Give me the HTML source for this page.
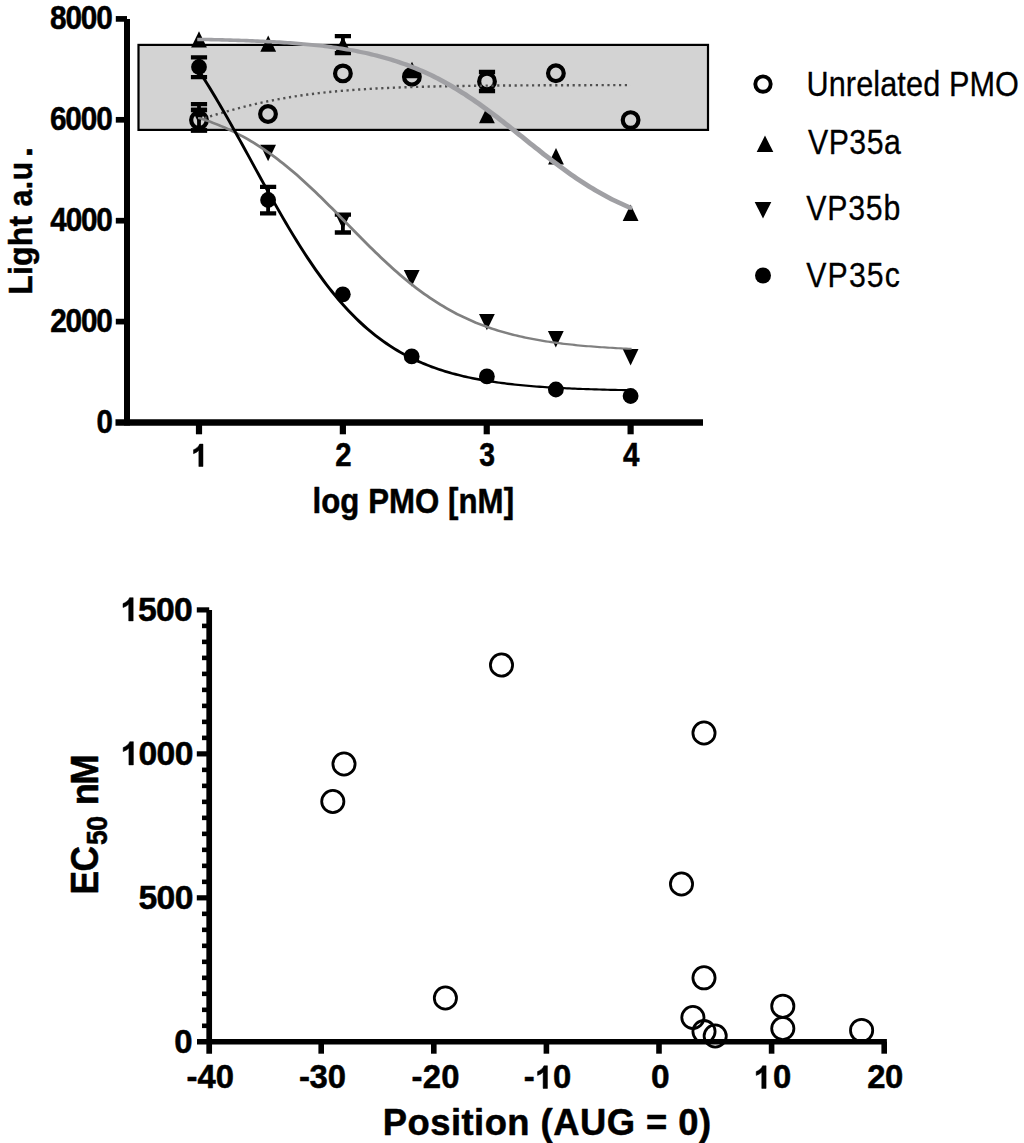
<!DOCTYPE html>
<html><head><meta charset="utf-8"><title>PMO dose response</title>
<style>html,body{margin:0;padding:0;background:#fff}svg{display:block}text{font-family:"Liberation Sans",sans-serif;fill:#000}</style>
</head><body>
<svg width="1024" height="1143" viewBox="0 0 1024 1143">
<rect width="1024" height="1143" fill="#fff"/>
<rect x="138.5" y="44.9" width="569.5" height="85.0" fill="#d3d3d3" stroke="#000" stroke-width="2.2"/>
<g stroke="#000" stroke-linecap="butt" fill="none">
<line x1="127.0" y1="19.0" x2="127.0" y2="425.5" stroke-width="6.0"/>
<line x1="115.5" y1="422.5" x2="703.0" y2="422.5" stroke-width="6.3"/>
<line x1="115.8" y1="321.60" x2="127.0" y2="321.60" stroke-width="5.7"/>
<line x1="115.8" y1="220.70" x2="127.0" y2="220.70" stroke-width="5.7"/>
<line x1="115.8" y1="119.80" x2="127.0" y2="119.80" stroke-width="5.7"/>
<line x1="115.8" y1="18.90" x2="127.0" y2="18.90" stroke-width="5.7"/>
<line x1="199.00" y1="422.5" x2="199.00" y2="434.3" stroke-width="6.2"/>
<line x1="342.87" y1="422.5" x2="342.87" y2="434.3" stroke-width="6.2"/>
<line x1="486.74" y1="422.5" x2="486.74" y2="434.3" stroke-width="6.2"/>
<line x1="630.61" y1="422.5" x2="630.61" y2="434.3" stroke-width="6.2"/>
</g>
<path d="M190.90,110.00H207.10M190.90,130.30H207.10" stroke="#000" stroke-width="4.3" fill="none"/><path d="M199.00,110.00V112.25" stroke="#000" stroke-width="3.8" fill="none"/><path d="M199.00,127.95V130.30" stroke="#000" stroke-width="3.8" fill="none"/>
<circle cx="199.00" cy="120.10" r="7.85" fill="none" stroke="#000" stroke-width="4.2"/>
<circle cx="268.00" cy="114.00" r="7.85" fill="none" stroke="#000" stroke-width="4.2"/>
<circle cx="342.90" cy="73.40" r="7.85" fill="none" stroke="#000" stroke-width="4.2"/>
<circle cx="411.90" cy="76.80" r="7.85" fill="none" stroke="#000" stroke-width="4.2"/>
<path d="M478.90,72.00H495.10M478.90,91.00H495.10" stroke="#000" stroke-width="4.3" fill="none"/><path d="M487.00,72.00V73.55" stroke="#000" stroke-width="3.8" fill="none"/><path d="M487.00,89.25V91.00" stroke="#000" stroke-width="3.8" fill="none"/>
<circle cx="487.00" cy="81.40" r="7.85" fill="none" stroke="#000" stroke-width="4.2"/>
<circle cx="555.90" cy="73.30" r="7.85" fill="none" stroke="#000" stroke-width="4.2"/>
<circle cx="630.60" cy="120.10" r="7.85" fill="none" stroke="#000" stroke-width="4.2"/>
<path d="M199.00,119.84 L202.63,118.70 L206.25,117.57 L209.88,116.45 L213.51,115.34 L217.13,114.25 L220.76,113.18 L224.39,112.13 L228.02,111.09 L231.64,110.08 L235.27,109.09 L238.90,108.12 L242.52,107.18 L246.15,106.26 L249.78,105.36 L253.40,104.49 L257.03,103.65 L260.66,102.83 L264.29,102.04 L267.91,101.28 L271.54,100.54 L275.17,99.82 L278.79,99.14 L282.42,98.47 L286.05,97.84 L289.67,97.23 L293.30,96.64 L296.93,96.07 L300.56,95.53 L304.18,95.02 L307.81,94.52 L311.44,94.05 L315.06,93.59 L318.69,93.16 L322.32,92.75 L325.94,92.35 L329.57,91.97 L333.20,91.62 L336.83,91.27 L340.45,90.95 L344.08,90.64 L347.71,90.35 L351.33,90.07 L354.96,89.80 L358.59,89.55 L362.21,89.31 L365.84,89.08 L369.47,88.86 L373.09,88.66 L376.72,88.46 L380.35,88.28 L383.98,88.10 L387.60,87.94 L391.23,87.78 L394.86,87.63 L398.48,87.49 L402.11,87.36 L405.74,87.23 L409.36,87.11 L412.99,87.00 L416.62,86.89 L420.25,86.79 L423.87,86.69 L427.50,86.60 L431.13,86.52 L434.75,86.44 L438.38,86.36 L442.01,86.29 L445.63,86.22 L449.26,86.15 L452.89,86.09 L456.52,86.04 L460.14,85.98 L463.77,85.93 L467.40,85.88 L471.02,85.83 L474.65,85.79 L478.28,85.75 L481.90,85.71 L485.53,85.67 L489.16,85.64 L492.78,85.61 L496.41,85.58 L500.04,85.55 L503.67,85.52 L507.29,85.49 L510.92,85.47 L514.55,85.45 L518.17,85.42 L521.80,85.40 L525.43,85.38 L529.05,85.36 L532.68,85.35 L536.31,85.33 L539.94,85.32 L543.56,85.30 L547.19,85.29 L550.82,85.27 L554.44,85.26 L558.07,85.25 L561.70,85.24 L565.32,85.23 L568.95,85.22 L572.58,85.21 L576.21,85.20 L579.83,85.19 L583.46,85.18 L587.09,85.18 L590.71,85.17 L594.34,85.16 L597.97,85.16 L601.59,85.15 L605.22,85.15 L608.85,85.14 L612.48,85.14 L616.10,85.13 L619.73,85.13 L623.36,85.12 L626.98,85.12 L630.61,85.12" fill="none" stroke="#505050" stroke-width="2.4" stroke-dasharray="2.2 3.6"/>
<path d="M199.00,31.20L206.90,47.60H191.10Z" fill="#000"/>
<path d="M268.20,35.40L276.10,51.80H260.30Z" fill="#000"/>
<path d="M334.80,36.10H351.00M334.80,53.20H351.00" stroke="#000" stroke-width="4.3" fill="none"/><path d="M342.90,36.10V53.20" stroke="#000" stroke-width="3.8" fill="none"/>
<path d="M342.90,36.40L350.80,52.80H335.00Z" fill="#000"/>
<path d="M412.00,61.80L419.90,78.20H404.10Z" fill="#000"/>
<path d="M486.90,106.90L494.80,123.30H479.00Z" fill="#000"/>
<path d="M556.00,148.00L563.90,164.40H548.10Z" fill="#000"/>
<path d="M630.60,204.60L638.50,221.00H622.70Z" fill="#000"/>
<path d="M197.25,37.65 L200.75,37.65 L203.46,37.70 L206.18,37.75 L208.89,37.80 L211.61,37.86 L214.32,37.91 L217.04,37.97 L219.75,38.04 L222.47,38.10 L225.18,38.17 L227.90,38.24 L230.61,38.31 L233.32,38.39 L236.04,38.47 L238.75,38.56 L241.47,38.65 L244.18,38.74 L246.90,38.83 L249.61,38.93 L252.33,39.04 L255.04,39.15 L257.76,39.26 L260.47,39.38 L263.18,39.50 L265.90,39.63 L268.61,39.77 L271.33,39.91 L274.04,40.05 L276.76,40.20 L279.47,40.36 L282.19,40.53 L284.90,40.70 L287.61,40.88 L290.33,41.07 L293.04,41.27 L295.76,41.47 L298.47,41.68 L301.19,41.90 L303.90,42.14 L306.62,42.38 L309.33,42.63 L312.05,42.89 L314.76,43.16 L317.47,43.44 L320.19,43.74 L322.90,44.05 L325.62,44.37 L328.33,44.70 L331.05,45.04 L333.76,45.40 L336.48,45.78 L339.19,46.17 L341.91,46.58 L344.62,47.00 L347.33,47.44 L350.05,47.89 L352.76,48.37 L355.48,48.86 L358.19,49.37 L360.91,49.90 L363.62,50.45 L366.34,51.02 L369.05,51.62 L371.77,52.24 L374.48,52.88 L377.19,53.54 L379.91,54.23 L382.62,54.94 L385.34,55.68 L388.05,56.44 L390.77,57.23 L393.48,58.05 L396.20,58.90 L398.91,59.78 L401.63,60.69 L404.34,61.63 L407.05,62.59 L409.77,63.59 L412.48,64.63 L415.20,65.69 L417.91,66.79 L420.63,67.92 L423.34,69.09 L426.06,70.29 L428.77,71.53 L431.48,72.80 L434.20,74.11 L436.91,75.45 L439.63,76.83 L442.34,78.25 L445.06,79.70 L447.77,81.19 L450.49,82.72 L453.20,84.28 L455.92,85.88 L458.63,87.51 L461.34,89.18 L464.06,90.88 L466.77,92.62 L469.49,94.39 L472.20,96.20 L474.92,98.03 L477.63,99.90 L480.35,101.80 L483.06,103.72 L485.78,105.68 L488.49,107.66 L491.20,109.67 L493.92,111.70 L496.63,113.75 L499.35,115.82 L502.06,117.91 L504.78,120.02 L507.49,122.14 L510.21,124.28 L512.92,126.43 L515.64,128.59 L518.35,130.76 L521.06,132.93 L523.78,135.10 L526.49,137.28 L529.21,139.46 L531.92,141.63 L534.64,143.80 L537.35,145.97 L540.07,148.12 L542.78,150.27 L545.50,152.40 L548.21,154.51 L550.92,156.62 L553.64,158.70 L556.35,160.76 L559.07,162.81 L561.78,164.82 L564.50,166.82 L567.21,168.79 L569.93,170.73 L572.64,172.65 L575.35,174.53 L578.07,176.38 L580.78,178.21 L583.50,180.00 L586.21,181.75 L588.93,183.48 L591.64,185.16 L594.36,186.82 L597.07,188.43 L599.79,190.02 L602.50,191.56 L605.21,193.07 L607.93,194.55 L610.64,195.98 L613.36,197.38 L616.07,198.75 L618.79,200.08 L621.50,201.37 L624.22,202.62 L626.93,203.85 L629.65,205.03 L632.36,206.18 L632.36,209.68 L628.86,209.68 L626.15,208.53 L623.43,207.35 L620.72,206.12 L618.00,204.87 L615.29,203.58 L612.57,202.25 L609.86,200.88 L607.14,199.48 L604.43,198.05 L601.71,196.57 L599.00,195.06 L596.29,193.52 L593.57,191.93 L590.86,190.32 L588.14,188.66 L585.43,186.98 L582.71,185.25 L580.00,183.50 L577.28,181.71 L574.57,179.88 L571.85,178.03 L569.14,176.15 L566.43,174.23 L563.71,172.29 L561.00,170.32 L558.28,168.32 L555.57,166.31 L552.85,164.26 L550.14,162.20 L547.42,160.12 L544.71,158.01 L542.00,155.90 L539.28,153.77 L536.57,151.62 L533.85,149.47 L531.14,147.30 L528.42,145.13 L525.71,142.96 L522.99,140.78 L520.28,138.60 L517.56,136.43 L514.85,134.26 L512.14,132.09 L509.42,129.93 L506.71,127.78 L503.99,125.64 L501.28,123.52 L498.56,121.41 L495.85,119.32 L493.13,117.25 L490.42,115.20 L487.70,113.17 L484.99,111.16 L482.28,109.18 L479.56,107.22 L476.85,105.30 L474.13,103.40 L471.42,101.53 L468.70,99.70 L465.99,97.89 L463.27,96.12 L460.56,94.38 L457.84,92.68 L455.13,91.01 L452.42,89.38 L449.70,87.78 L446.99,86.22 L444.27,84.69 L441.56,83.20 L438.84,81.75 L436.13,80.33 L433.41,78.95 L430.70,77.61 L427.98,76.30 L425.27,75.03 L422.56,73.79 L419.84,72.59 L417.13,71.42 L414.41,70.29 L411.70,69.19 L408.98,68.13 L406.27,67.09 L403.55,66.09 L400.84,65.13 L398.13,64.19 L395.41,63.28 L392.70,62.40 L389.98,61.55 L387.27,60.73 L384.55,59.94 L381.84,59.18 L379.12,58.44 L376.41,57.73 L373.69,57.04 L370.98,56.38 L368.27,55.74 L365.55,55.12 L362.84,54.52 L360.12,53.95 L357.41,53.40 L354.69,52.87 L351.98,52.36 L349.26,51.87 L346.55,51.39 L343.83,50.94 L341.12,50.50 L338.41,50.08 L335.69,49.67 L332.98,49.28 L330.26,48.90 L327.55,48.54 L324.83,48.20 L322.12,47.87 L319.40,47.55 L316.69,47.24 L313.97,46.94 L311.26,46.66 L308.55,46.39 L305.83,46.13 L303.12,45.88 L300.40,45.64 L297.69,45.40 L294.97,45.18 L292.26,44.97 L289.54,44.77 L286.83,44.57 L284.11,44.38 L281.40,44.20 L278.69,44.03 L275.97,43.86 L273.26,43.70 L270.54,43.55 L267.83,43.41 L265.11,43.27 L262.40,43.13 L259.68,43.00 L256.97,42.88 L254.26,42.76 L251.54,42.65 L248.83,42.54 L246.11,42.43 L243.40,42.33 L240.68,42.24 L237.97,42.15 L235.25,42.06 L232.54,41.97 L229.82,41.89 L227.11,41.81 L224.40,41.74 L221.68,41.67 L218.97,41.60 L216.25,41.54 L213.54,41.47 L210.82,41.41 L208.11,41.36 L205.39,41.30 L202.68,41.25 L199.96,41.20 L197.25,41.15Z" fill="#a0a0a4"/>
<path d="M190.90,104.20H207.10M190.90,130.50H207.10" stroke="#000" stroke-width="4.3" fill="none"/><path d="M199.00,104.20V130.50" stroke="#000" stroke-width="3.8" fill="none"/>
<path d="M199.00,124.10L206.90,107.70H191.10Z" fill="#000"/>
<path d="M268.10,161.20L276.00,144.80H260.20Z" fill="#000"/>
<path d="M334.80,214.70H351.00M334.80,232.50H351.00" stroke="#000" stroke-width="4.3" fill="none"/><path d="M342.90,214.70V232.50" stroke="#000" stroke-width="3.8" fill="none"/>
<path d="M342.90,229.40L350.80,213.00H335.00Z" fill="#000"/>
<path d="M411.70,286.50L419.60,270.10H403.80Z" fill="#000"/>
<path d="M486.90,330.30L494.80,313.90H479.00Z" fill="#000"/>
<path d="M555.80,347.40L563.70,331.00H547.90Z" fill="#000"/>
<path d="M630.60,365.40L638.50,349.00H622.70Z" fill="#000"/>
<path d="M198.00,116.90 L200.00,116.90 L202.71,117.78 L205.43,118.70 L208.14,119.64 L210.86,120.62 L213.57,121.64 L216.29,122.69 L219.00,123.78 L221.72,124.90 L224.43,126.07 L227.15,127.27 L229.86,128.51 L232.57,129.79 L235.29,131.12 L238.00,132.48 L240.72,133.89 L243.43,135.34 L246.15,136.83 L248.86,138.37 L251.58,139.96 L254.29,141.59 L257.01,143.26 L259.72,144.98 L262.43,146.75 L265.15,148.56 L267.86,150.42 L270.58,152.33 L273.29,154.28 L276.01,156.28 L278.72,158.32 L281.44,160.41 L284.15,162.55 L286.86,164.73 L289.58,166.95 L292.29,169.21 L295.01,171.52 L297.72,173.87 L300.44,176.25 L303.15,178.68 L305.87,181.14 L308.58,183.63 L311.30,186.16 L314.01,188.72 L316.72,191.32 L319.44,193.93 L322.15,196.58 L324.87,199.25 L327.58,201.94 L330.30,204.65 L333.01,207.37 L335.73,210.11 L338.44,212.87 L341.16,215.63 L343.87,218.40 L346.58,221.17 L349.30,223.94 L352.01,226.72 L354.73,229.48 L357.44,232.25 L360.16,235.00 L362.87,237.74 L365.59,240.47 L368.30,243.19 L371.02,245.88 L373.73,248.55 L376.44,251.20 L379.16,253.83 L381.87,256.42 L384.59,258.99 L387.30,261.52 L390.02,264.03 L392.73,266.49 L395.45,268.92 L398.16,271.32 L400.88,273.67 L403.59,275.99 L406.30,278.26 L409.02,280.49 L411.73,282.67 L414.45,284.82 L417.16,286.91 L419.88,288.97 L422.59,290.97 L425.31,292.93 L428.02,294.85 L430.73,296.72 L433.45,298.54 L436.16,300.31 L438.88,302.04 L441.59,303.72 L444.31,305.36 L447.02,306.95 L449.74,308.50 L452.45,310.00 L455.17,311.46 L457.88,312.88 L460.59,314.25 L463.31,315.58 L466.02,316.87 L468.74,318.12 L471.45,319.33 L474.17,320.50 L476.88,321.63 L479.60,322.73 L482.31,323.78 L485.03,324.81 L487.74,325.79 L490.45,326.75 L493.17,327.67 L495.88,328.55 L498.60,329.41 L501.31,330.24 L504.03,331.03 L506.74,331.80 L509.46,332.54 L512.17,333.25 L514.89,333.94 L517.60,334.60 L520.31,335.23 L523.03,335.85 L525.74,336.44 L528.46,337.00 L531.17,337.55 L533.89,338.07 L536.60,338.58 L539.32,339.06 L542.03,339.53 L544.75,339.97 L547.46,340.40 L550.17,340.82 L552.89,341.22 L555.60,341.60 L558.32,341.96 L561.03,342.32 L563.75,342.65 L566.46,342.98 L569.18,343.29 L571.89,343.59 L574.60,343.87 L577.32,344.15 L580.03,344.41 L582.75,344.67 L585.46,344.91 L588.18,345.14 L590.89,345.37 L593.61,345.58 L596.32,345.79 L599.04,345.98 L601.75,346.17 L604.46,346.35 L607.18,346.53 L609.89,346.70 L612.61,346.86 L615.32,347.01 L618.04,347.16 L620.75,347.30 L623.47,347.43 L626.18,347.56 L628.90,347.69 L631.61,347.80 L631.61,349.80 L629.61,349.80 L626.90,349.69 L624.18,349.56 L621.47,349.43 L618.75,349.30 L616.04,349.16 L613.32,349.01 L610.61,348.86 L607.89,348.70 L605.18,348.53 L602.46,348.35 L599.75,348.17 L597.04,347.98 L594.32,347.79 L591.61,347.58 L588.89,347.37 L586.18,347.14 L583.46,346.91 L580.75,346.67 L578.03,346.41 L575.32,346.15 L572.60,345.87 L569.89,345.59 L567.18,345.29 L564.46,344.98 L561.75,344.65 L559.03,344.32 L556.32,343.96 L553.60,343.60 L550.89,343.22 L548.17,342.82 L545.46,342.40 L542.75,341.97 L540.03,341.53 L537.32,341.06 L534.60,340.58 L531.89,340.07 L529.17,339.55 L526.46,339.00 L523.74,338.44 L521.03,337.85 L518.31,337.23 L515.60,336.60 L512.89,335.94 L510.17,335.25 L507.46,334.54 L504.74,333.80 L502.03,333.03 L499.31,332.24 L496.60,331.41 L493.88,330.55 L491.17,329.67 L488.45,328.75 L485.74,327.79 L483.03,326.81 L480.31,325.78 L477.60,324.73 L474.88,323.63 L472.17,322.50 L469.45,321.33 L466.74,320.12 L464.02,318.87 L461.31,317.58 L458.59,316.25 L455.88,314.88 L453.17,313.46 L450.45,312.00 L447.74,310.50 L445.02,308.95 L442.31,307.36 L439.59,305.72 L436.88,304.04 L434.16,302.31 L431.45,300.54 L428.73,298.72 L426.02,296.85 L423.31,294.93 L420.59,292.97 L417.88,290.97 L415.16,288.91 L412.45,286.82 L409.73,284.67 L407.02,282.49 L404.30,280.26 L401.59,277.99 L398.88,275.67 L396.16,273.32 L393.45,270.92 L390.73,268.49 L388.02,266.03 L385.30,263.52 L382.59,260.99 L379.87,258.42 L377.16,255.83 L374.44,253.20 L371.73,250.55 L369.02,247.88 L366.30,245.19 L363.59,242.47 L360.87,239.74 L358.16,237.00 L355.44,234.25 L352.73,231.48 L350.01,228.72 L347.30,225.94 L344.58,223.17 L341.87,220.40 L339.16,217.63 L336.44,214.87 L333.73,212.11 L331.01,209.37 L328.30,206.65 L325.58,203.94 L322.87,201.25 L320.15,198.58 L317.44,195.93 L314.72,193.32 L312.01,190.72 L309.30,188.16 L306.58,185.63 L303.87,183.14 L301.15,180.68 L298.44,178.25 L295.72,175.87 L293.01,173.52 L290.29,171.21 L287.58,168.95 L284.86,166.73 L282.15,164.55 L279.44,162.41 L276.72,160.32 L274.01,158.28 L271.29,156.28 L268.58,154.33 L265.86,152.42 L263.15,150.56 L260.43,148.75 L257.72,146.98 L255.01,145.26 L252.29,143.59 L249.58,141.96 L246.86,140.37 L244.15,138.83 L241.43,137.34 L238.72,135.89 L236.00,134.48 L233.29,133.12 L230.57,131.79 L227.86,130.51 L225.15,129.27 L222.43,128.07 L219.72,126.90 L217.00,125.78 L214.29,124.69 L211.57,123.64 L208.86,122.62 L206.14,121.64 L203.43,120.70 L200.71,119.78 L198.00,118.90Z" fill="#808080"/>
<path d="M190.90,57.40H207.10M190.90,77.20H207.10" stroke="#000" stroke-width="4.3" fill="none"/><path d="M199.00,57.40V77.20" stroke="#000" stroke-width="3.8" fill="none"/>
<circle cx="199.00" cy="67.00" r="7.9" fill="#000"/>
<path d="M260.00,186.90H276.20M260.00,213.30H276.20" stroke="#000" stroke-width="4.3" fill="none"/><path d="M268.10,186.90V213.30" stroke="#000" stroke-width="3.8" fill="none"/>
<circle cx="268.10" cy="200.00" r="7.9" fill="#000"/>
<circle cx="342.80" cy="294.30" r="7.9" fill="#000"/>
<circle cx="411.70" cy="356.40" r="7.9" fill="#000"/>
<circle cx="486.90" cy="376.40" r="7.9" fill="#000"/>
<circle cx="555.90" cy="389.50" r="7.9" fill="#000"/>
<circle cx="630.60" cy="396.00" r="7.9" fill="#000"/>
<path d="M197.95,69.91 L200.05,69.91 L202.76,74.10 L205.48,78.37 L208.19,82.71 L210.91,87.11 L213.62,91.57 L216.34,96.10 L219.05,100.68 L221.77,105.32 L224.48,110.00 L227.20,114.73 L229.91,119.50 L232.62,124.32 L235.34,129.16 L238.05,134.04 L240.77,138.94 L243.48,143.87 L246.20,148.81 L248.91,153.76 L251.63,158.72 L254.34,163.68 L257.06,168.64 L259.77,173.60 L262.48,178.54 L265.20,183.47 L267.91,188.38 L270.63,193.26 L273.34,198.11 L276.06,202.93 L278.77,207.71 L281.49,212.46 L284.20,217.15 L286.91,221.80 L289.63,226.39 L292.34,230.93 L295.06,235.41 L297.77,239.82 L300.49,244.17 L303.20,248.45 L305.92,252.67 L308.63,256.81 L311.35,260.87 L314.06,264.87 L316.77,268.78 L319.49,272.61 L322.20,276.37 L324.92,280.04 L327.63,283.63 L330.35,287.14 L333.06,290.57 L335.78,293.91 L338.49,297.17 L341.21,300.35 L343.92,303.45 L346.63,306.46 L349.35,309.39 L352.06,312.24 L354.78,315.01 L357.49,317.70 L360.21,320.31 L362.92,322.85 L365.64,325.31 L368.35,327.69 L371.07,330.00 L373.78,332.23 L376.49,334.40 L379.21,336.49 L381.92,338.52 L384.64,340.48 L387.35,342.37 L390.07,344.20 L392.78,345.97 L395.50,347.67 L398.21,349.32 L400.93,350.91 L403.64,352.44 L406.35,353.92 L409.07,355.35 L411.78,356.72 L414.50,358.05 L417.21,359.32 L419.93,360.55 L422.64,361.73 L425.36,362.87 L428.07,363.97 L430.78,365.02 L433.50,366.04 L436.21,367.01 L438.93,367.95 L441.64,368.86 L444.36,369.72 L447.07,370.56 L449.79,371.36 L452.50,372.13 L455.22,372.87 L457.93,373.58 L460.64,374.26 L463.36,374.92 L466.07,375.55 L468.79,376.15 L471.50,376.73 L474.22,377.29 L476.93,377.83 L479.65,378.34 L482.36,378.83 L485.08,379.31 L487.79,379.76 L490.50,380.19 L493.22,380.61 L495.93,381.01 L498.65,381.40 L501.36,381.77 L504.08,382.12 L506.79,382.46 L509.51,382.78 L512.22,383.09 L514.94,383.39 L517.65,383.68 L520.36,383.95 L523.08,384.22 L525.79,384.47 L528.51,384.71 L531.22,384.94 L533.94,385.16 L536.65,385.38 L539.37,385.58 L542.08,385.78 L544.80,385.96 L547.51,386.14 L550.22,386.32 L552.94,386.48 L555.65,386.64 L558.37,386.79 L561.08,386.94 L563.80,387.07 L566.51,387.21 L569.23,387.34 L571.94,387.46 L574.65,387.57 L577.37,387.69 L580.08,387.79 L582.80,387.90 L585.51,388.00 L588.23,388.09 L590.94,388.18 L593.66,388.27 L596.37,388.35 L599.09,388.43 L601.80,388.51 L604.51,388.58 L607.23,388.65 L609.94,388.72 L612.66,388.78 L615.37,388.84 L618.09,388.90 L620.80,388.96 L623.52,389.01 L626.23,389.06 L628.95,389.11 L631.66,389.16 L631.66,391.26 L629.56,391.26 L626.85,391.21 L624.13,391.16 L621.42,391.11 L618.70,391.06 L615.99,391.00 L613.27,390.94 L610.56,390.88 L607.84,390.82 L605.13,390.75 L602.41,390.68 L599.70,390.61 L596.99,390.53 L594.27,390.45 L591.56,390.37 L588.84,390.28 L586.13,390.19 L583.41,390.10 L580.70,390.00 L577.98,389.89 L575.27,389.79 L572.55,389.67 L569.84,389.56 L567.13,389.44 L564.41,389.31 L561.70,389.17 L558.98,389.04 L556.27,388.89 L553.55,388.74 L550.84,388.58 L548.12,388.42 L545.41,388.24 L542.70,388.06 L539.98,387.88 L537.27,387.68 L534.55,387.48 L531.84,387.26 L529.12,387.04 L526.41,386.81 L523.69,386.57 L520.98,386.32 L518.26,386.05 L515.55,385.78 L512.84,385.49 L510.12,385.19 L507.41,384.88 L504.69,384.56 L501.98,384.22 L499.26,383.87 L496.55,383.50 L493.83,383.11 L491.12,382.71 L488.40,382.29 L485.69,381.86 L482.98,381.41 L480.26,380.93 L477.55,380.44 L474.83,379.93 L472.12,379.39 L469.40,378.83 L466.69,378.25 L463.97,377.65 L461.26,377.02 L458.54,376.36 L455.83,375.68 L453.12,374.97 L450.40,374.23 L447.69,373.46 L444.97,372.66 L442.26,371.82 L439.54,370.96 L436.83,370.05 L434.11,369.11 L431.40,368.14 L428.68,367.12 L425.97,366.07 L423.26,364.97 L420.54,363.83 L417.83,362.65 L415.11,361.42 L412.40,360.15 L409.68,358.82 L406.97,357.45 L404.25,356.02 L401.54,354.54 L398.83,353.01 L396.11,351.42 L393.40,349.77 L390.68,348.07 L387.97,346.30 L385.25,344.47 L382.54,342.58 L379.82,340.62 L377.11,338.59 L374.39,336.50 L371.68,334.33 L368.97,332.10 L366.25,329.79 L363.54,327.41 L360.82,324.95 L358.11,322.41 L355.39,319.80 L352.68,317.11 L349.96,314.34 L347.25,311.49 L344.53,308.56 L341.82,305.55 L339.11,302.45 L336.39,299.27 L333.68,296.01 L330.96,292.67 L328.25,289.24 L325.53,285.73 L322.82,282.14 L320.10,278.47 L317.39,274.71 L314.67,270.88 L311.96,266.97 L309.25,262.97 L306.53,258.91 L303.82,254.77 L301.10,250.55 L298.39,246.27 L295.67,241.92 L292.96,237.51 L290.24,233.03 L287.53,228.49 L284.81,223.90 L282.10,219.25 L279.39,214.56 L276.67,209.81 L273.96,205.03 L271.24,200.21 L268.53,195.36 L265.81,190.48 L263.10,185.57 L260.38,180.64 L257.67,175.70 L254.96,170.74 L252.24,165.78 L249.53,160.82 L246.81,155.86 L244.10,150.91 L241.38,145.97 L238.67,141.04 L235.95,136.14 L233.24,131.26 L230.52,126.42 L227.81,121.60 L225.10,116.83 L222.38,112.10 L219.67,107.42 L216.95,102.78 L214.24,98.20 L211.52,93.67 L208.81,89.21 L206.09,84.81 L203.38,80.47 L200.66,76.20 L197.95,72.01Z" fill="#000"/>
<circle cx="763.0" cy="84.1" r="7.7" fill="none" stroke="#000" stroke-width="3.9"/>
<path d="M765.00,135.45L773.30,151.95H756.70Z" fill="#000"/>
<path d="M763.00,218.45L771.30,201.95H754.70Z" fill="#000"/>
<circle cx="763.0" cy="275.5" r="8.0" fill="#000"/>
<g transform="matrix(0.9150 0 0 1 50.03 29.40)" font-size="32.56" font-weight="bold" stroke="#000" stroke-width="0.5" stroke-linejoin="round"><text x="0.00" y="0">8</text><text x="16.84" y="0">0</text><text x="33.68" y="0">0</text><text x="50.52" y="0">0</text></g>
<g transform="matrix(0.9150 0 0 1 49.88 130.10)" font-size="32.56" font-weight="bold" stroke="#000" stroke-width="0.5" stroke-linejoin="round"><text x="0.00" y="0">6</text><text x="16.89" y="0">0</text><text x="33.79" y="0">0</text><text x="50.68" y="0">0</text></g>
<g transform="matrix(0.9150 0 0 1 50.35 230.90)" font-size="32.56" font-weight="bold" stroke="#000" stroke-width="0.5" stroke-linejoin="round"><text x="0.00" y="0">4</text><text x="16.72" y="0">0</text><text x="33.45" y="0">0</text><text x="50.17" y="0">0</text></g>
<g transform="matrix(0.9150 0 0 1 50.21 331.60)" font-size="32.56" font-weight="bold" stroke="#000" stroke-width="0.5" stroke-linejoin="round"><text x="0.00" y="0">2</text><text x="16.78" y="0">0</text><text x="33.55" y="0">0</text><text x="50.33" y="0">0</text></g>
<g transform="matrix(0.9053 0 0 1 96.42 433.00)" font-size="32.56" font-weight="bold" stroke="#000" stroke-width="0.5" stroke-linejoin="round"><text x="0.00" y="0">0</text></g>
<g transform="matrix(0.9693 0 0 1 190.73 466.50)" font-size="32.56" font-weight="bold" stroke="#000" stroke-width="0.5" stroke-linejoin="round"><path d="M12.65,-0.00H8.37V-16.11Q6.03,-13.92 2.85,-12.87V-16.75Q4.53,-17.30 6.49,-18.83Q8.45,-20.36 9.18,-22.40H12.65Z" fill="#000"/></g>
<g transform="matrix(0.9022 0 0 1 335.17 466.30)" font-size="32.56" font-weight="bold" stroke="#000" stroke-width="0.5" stroke-linejoin="round"><text x="0.00" y="0">2</text></g>
<g transform="matrix(0.8705 0 0 1 479.36 466.30)" font-size="32.56" font-weight="bold" stroke="#000" stroke-width="0.5" stroke-linejoin="round"><text x="0.00" y="0">3</text></g>
<g transform="matrix(0.9071 0 0 1 623.06 466.30)" font-size="32.56" font-weight="bold" stroke="#000" stroke-width="0.5" stroke-linejoin="round"><text x="0.00" y="0">4</text></g>
<g transform="matrix(0.9000 0 0 1 312.52 513.00)" font-size="34.65" font-weight="bold" stroke="#000" stroke-width="0.5" stroke-linejoin="round"><text x="0.00" y="0">l</text><text x="9.69" y="0">o</text><text x="30.91" y="0">g</text><text x="61.83" y="0">P</text><text x="85.00" y="0">M</text><text x="113.92" y="0">O</text><text x="150.62" y="0">[</text><text x="162.22" y="0">n</text><text x="183.44" y="0">M</text><text x="212.37" y="0">]</text></g>
<g transform="translate(32.40 294.86) rotate(-90) scale(0.9600 1)" font-size="33.36" font-weight="bold" stroke="#000" stroke-width="0.5" stroke-linejoin="round"><text x="0.00" y="0">L</text><text x="20.59" y="0">i</text><text x="30.08" y="0">g</text><text x="50.67" y="0">h</text><text x="71.26" y="0">t</text></g>
<g transform="translate(32.40 206.60) rotate(-90) scale(0.9000 1)" font-size="33.36" font-weight="bold" stroke="#000" stroke-width="0.5" stroke-linejoin="round"><text x="0.00" y="0">a</text><text x="19.33" y="0">.</text><text x="29.38" y="0">u</text></g>
<g transform="translate(32.40 157.16) rotate(-90) scale(1.0939 1)" font-size="33.36" font-weight="bold" stroke="#000" stroke-width="0.5" stroke-linejoin="round"><text x="0.00" y="0">.</text></g>
<g transform="matrix(0.8700 0 0 1 806.43 95.90)" font-size="35.22" font-weight="normal" stroke="#000" stroke-width="0.3" stroke-linejoin="round"><text x="0.00" y="0">U</text><text x="25.57" y="0">n</text><text x="45.29" y="0">r</text><text x="57.15" y="0">e</text><text x="76.86" y="0">l</text><text x="84.82" y="0">a</text><text x="104.54" y="0">t</text><text x="114.46" y="0">e</text><text x="134.18" y="0">d</text><text x="163.81" y="0">P</text><text x="187.44" y="0">M</text><text x="216.90" y="0">O</text></g>
<g transform="matrix(0.8700 0 0 1 808.05 154.00)" font-size="34.79" font-weight="normal" stroke="#000" stroke-width="0.3" stroke-linejoin="round"><text x="0.00" y="0">V</text><text x="23.75" y="0">P</text><text x="47.51" y="0">3</text><text x="67.40" y="0">5</text><text x="87.30" y="0">a</text></g>
<g transform="matrix(0.8700 0 0 1 806.25 220.40)" font-size="34.79" font-weight="normal" stroke="#000" stroke-width="0.3" stroke-linejoin="round"><text x="0.00" y="0">V</text><text x="24.13" y="0">P</text><text x="48.26" y="0">3</text><text x="68.53" y="0">5</text><text x="88.81" y="0">b</text></g>
<g transform="matrix(0.8700 0 0 1 806.25 286.90)" font-size="34.79" font-weight="normal" stroke="#000" stroke-width="0.3" stroke-linejoin="round"><text x="0.00" y="0">V</text><text x="24.50" y="0">P</text><text x="49.00" y="0">3</text><text x="69.64" y="0">5</text><text x="90.29" y="0">c</text></g>
<g transform="matrix(1.0000 0 0 1 120.05 620.90)" font-size="33.72" font-weight="bold" stroke="#000" stroke-width="0.5" stroke-linejoin="round"><path d="M13.11,-0.00H8.67V-16.69Q6.25,-14.42 2.95,-13.33V-17.35Q4.69,-17.92 6.72,-19.50Q8.75,-21.09 9.51,-23.20H13.11Z" fill="#000"/><text x="18.00" y="0">5</text><text x="35.99" y="0">0</text><text x="53.99" y="0">0</text></g>
<g transform="matrix(1.0000 0 0 1 120.25 764.90)" font-size="33.72" font-weight="bold" stroke="#000" stroke-width="0.5" stroke-linejoin="round"><path d="M13.11,-0.00H8.67V-16.69Q6.25,-14.42 2.95,-13.33V-17.35Q4.69,-17.92 6.72,-19.50Q8.75,-21.09 9.51,-23.20H13.11Z" fill="#000"/><text x="18.13" y="0">0</text><text x="36.26" y="0">0</text><text x="54.39" y="0">0</text></g>
<g transform="matrix(1.0000 0 0 1 138.59 908.80)" font-size="33.72" font-weight="bold" stroke="#000" stroke-width="0.5" stroke-linejoin="round"><text x="0.00" y="0">5</text><text x="18.02" y="0">0</text><text x="36.05" y="0">0</text></g>
<g transform="matrix(0.9771 0 0 1 174.28 1053.30)" font-size="33.72" font-weight="bold" stroke="#000" stroke-width="0.5" stroke-linejoin="round"><text x="0.00" y="0">0</text></g>
<g transform="matrix(1.0000 0 0 1 186.39 1088.40)" font-size="32.85" font-weight="bold" stroke="#000" stroke-width="0.5" stroke-linejoin="round"><text x="0.00" y="0">-</text><text x="11.03" y="0">4</text><text x="29.40" y="0">0</text></g>
<g transform="matrix(1.0000 0 0 1 298.89 1088.40)" font-size="32.85" font-weight="bold" stroke="#000" stroke-width="0.5" stroke-linejoin="round"><text x="0.00" y="0">-</text><text x="10.73" y="0">3</text><text x="28.80" y="0">0</text></g>
<g transform="matrix(1.0000 0 0 1 411.39 1088.40)" font-size="32.85" font-weight="bold" stroke="#000" stroke-width="0.5" stroke-linejoin="round"><text x="0.00" y="0">-</text><text x="11.28" y="0">2</text><text x="29.90" y="0">0</text></g>
<g transform="matrix(1.0000 0 0 1 523.69 1088.40)" font-size="32.85" font-weight="bold" stroke="#000" stroke-width="0.5" stroke-linejoin="round"><text x="0.00" y="0">-</text><path d="M23.75,-0.00H19.43V-16.26Q17.07,-14.05 13.86,-12.99V-16.90Q15.55,-17.46 17.53,-19.00Q19.51,-20.54 20.25,-22.60H23.75Z" fill="#000"/><text x="29.30" y="0">0</text></g>
<g transform="matrix(1.0190 0 0 1 650.96 1088.40)" font-size="32.85" font-weight="bold" stroke="#000" stroke-width="0.5" stroke-linejoin="round"><text x="0.00" y="0">0</text></g>
<g transform="matrix(1.0000 0 0 1 753.32 1088.40)" font-size="32.85" font-weight="bold" stroke="#000" stroke-width="0.5" stroke-linejoin="round"><path d="M12.77,-0.00H8.45V-16.26Q6.09,-14.05 2.88,-12.99V-16.90Q4.57,-17.46 6.55,-19.00Q8.53,-20.54 9.26,-22.60H12.77Z" fill="#000"/><text x="19.66" y="0">0</text></g>
<g transform="matrix(1.0000 0 0 1 867.15 1088.40)" font-size="32.85" font-weight="bold" stroke="#000" stroke-width="0.5" stroke-linejoin="round"><text x="0.00" y="0">2</text><text x="17.93" y="0">0</text></g>
<g transform="matrix(1.0000 0 0 1 382.85 1134.50)" font-size="36.36" font-weight="bold" stroke="#000" stroke-width="0.5" stroke-linejoin="round"><text x="0.00" y="0">P</text><text x="24.72" y="0">o</text><text x="47.40" y="0">s</text><text x="68.10" y="0">i</text><text x="78.67" y="0">t</text><text x="91.25" y="0">i</text><text x="101.82" y="0">o</text><text x="124.50" y="0">n</text><text x="157.75" y="0">(</text><text x="170.33" y="0">A</text><text x="197.06" y="0">U</text><text x="223.79" y="0">G</text><text x="263.11" y="0">=</text><text x="295.39" y="0">0</text><text x="316.08" y="0">)</text></g>
<g transform="translate(98.06 894.38) rotate(-90) scale(0.9000 1)" font-size="39.24" font-weight="bold" stroke="#000" stroke-width="0.5" stroke-linejoin="round"><text x="0.00" y="0">E</text><text x="25.37" y="0">C</text></g>
<g transform="translate(107.00 845.10) rotate(-90) scale(0.9000 1)" font-size="29.51" font-weight="bold" stroke="#000" stroke-width="0.5" stroke-linejoin="round"><text x="0.00" y="0">5</text><text x="15.91" y="0">0</text></g>
<g transform="translate(98.00 805.27) rotate(-90) scale(0.9300 1)" font-size="39.24" font-weight="bold" stroke="#000" stroke-width="0.5" stroke-linejoin="round"><text x="0.00" y="0">n</text><text x="21.99" y="0">M</text></g>
<g stroke="#000" fill="none">
<line x1="209.2" y1="609.9" x2="209.2" y2="1053.7" stroke-width="5.7"/>
<line x1="197.0" y1="1041.8" x2="886.9" y2="1041.8" stroke-width="5.4"/>
<line x1="202.0" y1="1025.80" x2="209.2" y2="1025.80" stroke-width="4.6"/>
<line x1="202.0" y1="1009.81" x2="209.2" y2="1009.81" stroke-width="4.6"/>
<line x1="202.0" y1="993.81" x2="209.2" y2="993.81" stroke-width="4.6"/>
<line x1="202.0" y1="977.81" x2="209.2" y2="977.81" stroke-width="4.6"/>
<line x1="202.0" y1="961.82" x2="209.2" y2="961.82" stroke-width="4.6"/>
<line x1="202.0" y1="945.82" x2="209.2" y2="945.82" stroke-width="4.6"/>
<line x1="202.0" y1="929.83" x2="209.2" y2="929.83" stroke-width="4.6"/>
<line x1="202.0" y1="913.83" x2="209.2" y2="913.83" stroke-width="4.6"/>
<line x1="196.8" y1="897.83" x2="209.2" y2="897.83" stroke-width="5.2"/>
<line x1="202.0" y1="881.84" x2="209.2" y2="881.84" stroke-width="4.6"/>
<line x1="202.0" y1="865.84" x2="209.2" y2="865.84" stroke-width="4.6"/>
<line x1="202.0" y1="849.84" x2="209.2" y2="849.84" stroke-width="4.6"/>
<line x1="202.0" y1="833.85" x2="209.2" y2="833.85" stroke-width="4.6"/>
<line x1="202.0" y1="817.85" x2="209.2" y2="817.85" stroke-width="4.6"/>
<line x1="202.0" y1="801.86" x2="209.2" y2="801.86" stroke-width="4.6"/>
<line x1="202.0" y1="785.86" x2="209.2" y2="785.86" stroke-width="4.6"/>
<line x1="202.0" y1="769.86" x2="209.2" y2="769.86" stroke-width="4.6"/>
<line x1="196.8" y1="753.87" x2="209.2" y2="753.87" stroke-width="5.2"/>
<line x1="202.0" y1="737.87" x2="209.2" y2="737.87" stroke-width="4.6"/>
<line x1="202.0" y1="721.87" x2="209.2" y2="721.87" stroke-width="4.6"/>
<line x1="202.0" y1="705.88" x2="209.2" y2="705.88" stroke-width="4.6"/>
<line x1="202.0" y1="689.88" x2="209.2" y2="689.88" stroke-width="4.6"/>
<line x1="202.0" y1="673.89" x2="209.2" y2="673.89" stroke-width="4.6"/>
<line x1="202.0" y1="657.89" x2="209.2" y2="657.89" stroke-width="4.6"/>
<line x1="202.0" y1="641.89" x2="209.2" y2="641.89" stroke-width="4.6"/>
<line x1="202.0" y1="625.90" x2="209.2" y2="625.90" stroke-width="4.6"/>
<line x1="196.8" y1="609.90" x2="209.2" y2="609.90" stroke-width="5.2"/>
<line x1="321.20" y1="1041.8" x2="321.20" y2="1053.7" stroke-width="5.6"/>
<line x1="433.80" y1="1041.8" x2="433.80" y2="1053.7" stroke-width="5.6"/>
<line x1="546.40" y1="1041.8" x2="546.40" y2="1053.7" stroke-width="5.6"/>
<line x1="659.00" y1="1041.8" x2="659.00" y2="1053.7" stroke-width="5.6"/>
<line x1="771.60" y1="1041.8" x2="771.60" y2="1053.7" stroke-width="5.6"/>
<line x1="884.20" y1="1041.8" x2="884.20" y2="1053.7" stroke-width="5.6"/>
<circle cx="332.8" cy="801.5" r="11.1" stroke-width="2.8"/>
<circle cx="344" cy="764" r="11.1" stroke-width="2.8"/>
<circle cx="445.4" cy="998" r="11.1" stroke-width="2.8"/>
<circle cx="501.5" cy="665" r="11.1" stroke-width="2.8"/>
<circle cx="681.5" cy="884" r="11.1" stroke-width="2.8"/>
<circle cx="692.9" cy="1017.5" r="11.1" stroke-width="2.8"/>
<circle cx="704" cy="733" r="11.1" stroke-width="2.8"/>
<circle cx="704" cy="977.8" r="11.1" stroke-width="2.8"/>
<circle cx="704" cy="1031.6" r="11.1" stroke-width="2.8"/>
<circle cx="715.2" cy="1036" r="11.1" stroke-width="2.8"/>
<circle cx="782.8" cy="1006.2" r="11.1" stroke-width="2.8"/>
<circle cx="782.8" cy="1028.5" r="11.1" stroke-width="2.8"/>
<circle cx="861.6" cy="1030.4" r="11.1" stroke-width="2.8"/>
</g>
</svg></body></html>
